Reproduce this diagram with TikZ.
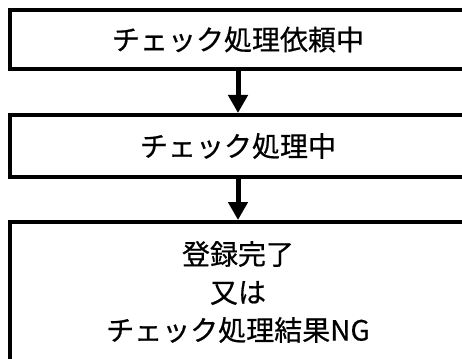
\documentclass[tikz,border=0pt]{standalone}
\usepackage{fontspec}
\setmainfont[FakeBold=0.6]{Noto Sans CJK JP}
\usetikzlibrary{arrows.meta}
\begin{document}
\begin{tikzpicture}[x=1pt,y=-1pt,
  box/.style={draw, line width=4pt, rectangle, inner sep=0pt,
    font=\fontsize{28}{38}\selectfont, align=center},
  arr/.style={line width=5pt, -{Triangle[length=18pt,width=19pt]}}]
\useasboundingbox (0,0) rectangle (462,358);
\clip (0,0) rectangle (462,358);
\node[box, minimum width=456pt, minimum height=59pt] (b1) at (238,39.5) {チェック処理依頼中};
\node[box, minimum width=456pt, minimum height=62pt] (b2) at (238,146) {チェック処理中};
\node[box, minimum width=456pt, minimum height=140pt] (b3) at (238,292) {登録完了\\又は\\チェック処理結果NG};
\draw[arr] (b1.south) -- (b2.north);
\draw[arr] (b2.south) -- (b3.north);
\end{tikzpicture}
\end{document}
